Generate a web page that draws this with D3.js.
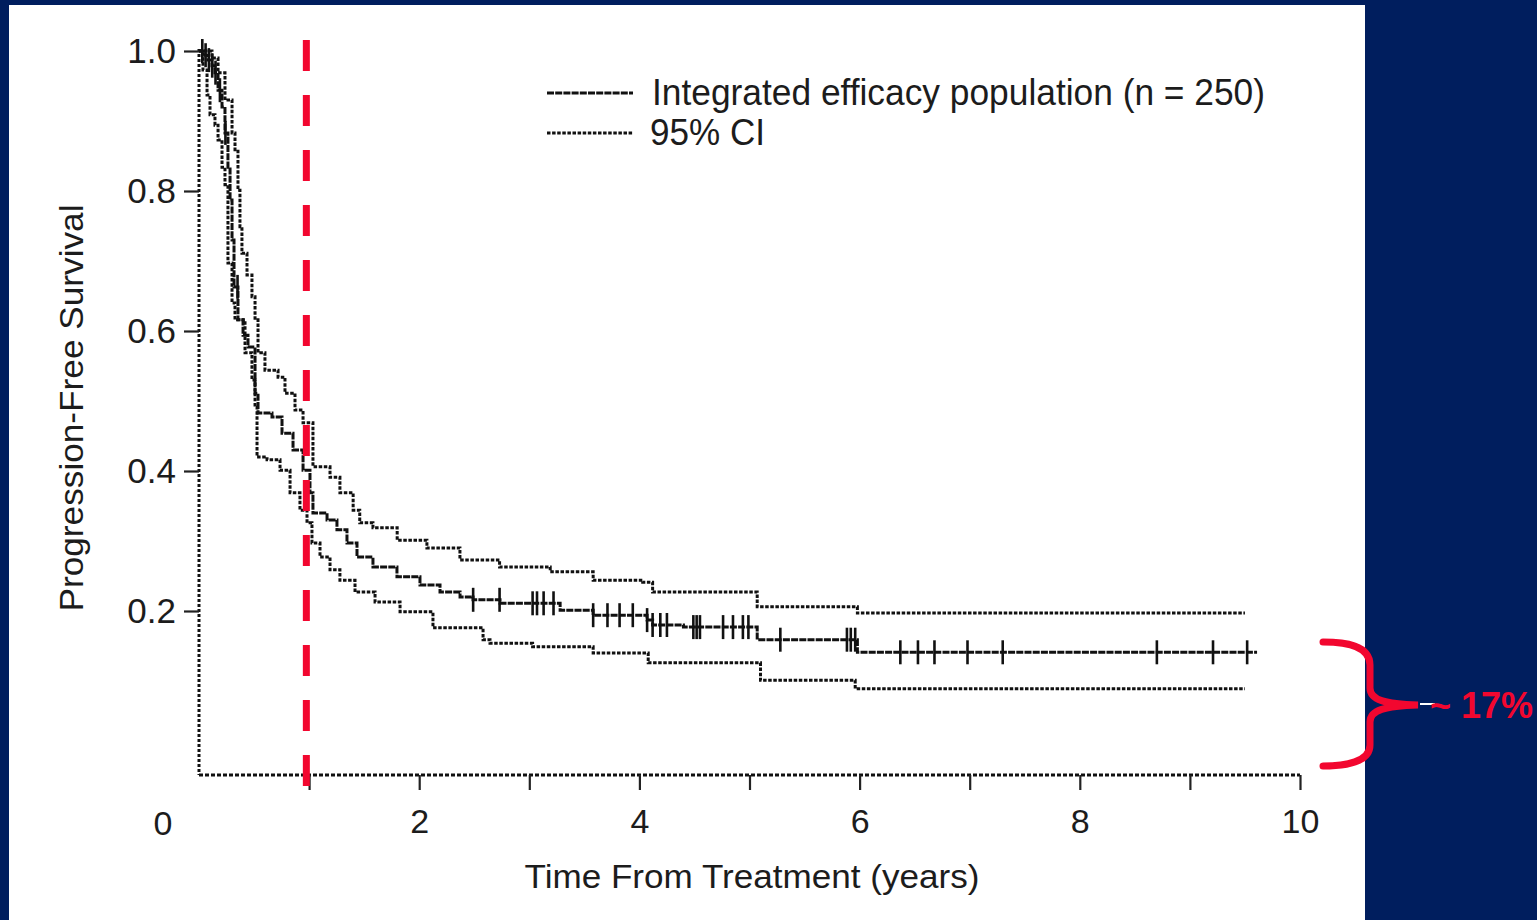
<!DOCTYPE html>
<html>
<head>
<meta charset="utf-8">
<script src="https://cdn.jsdelivr.net/npm/d3@7"></script>
<style>
  html, body { margin: 0; padding: 0; background: #001e5e; }
  svg { display: block; }
  text { font-family: "Liberation Sans", Arial, sans-serif; }
</style>
</head>
<body>
<svg id="chart" width="1537" height="920"></svg>
<script>
// ---------------- DATA ----------------
// Kaplan-Meier estimate: [time (years), progression-free survival]
const pfsMain = [
  [0,1.0],[0.055,0.994],[0.082,0.987],[0.118,0.979],[0.145,0.969],[0.173,0.944],
  [0.209,0.92],[0.236,0.883],[0.263,0.834],[0.282,0.787],[0.30,0.73],[0.318,0.663],
  [0.354,0.616],[0.40,0.594],[0.445,0.577],[0.509,0.559],[0.509,0.511],[0.536,0.483],
  [0.663,0.477],[0.754,0.454],[0.854,0.43],[0.945,0.401],[1.008,0.369],[1.035,0.34],
  [1.163,0.33],[1.253,0.316],[1.344,0.297],[1.435,0.277],[1.58,0.263],[1.798,0.249],
  [2.007,0.237],[2.189,0.227],[2.371,0.22],[2.489,0.216],[2.734,0.211],[3.28,0.201],
  [3.58,0.194],[4.07,0.187],[4.12,0.18],[4.40,0.177],[5.07,0.159],[5.98,0.141],[9.61,0.141]
];
const ciUpper = [
  [0,1.0],[0.118,0.99],[0.173,0.969],[0.236,0.93],[0.30,0.883],[0.327,0.859],
  [0.354,0.801],[0.372,0.749],[0.39,0.711],[0.436,0.68],[0.481,0.649],[0.509,0.616],
  [0.536,0.569],[0.599,0.544],[0.718,0.534],[0.781,0.511],[0.872,0.487],[0.945,0.469],
  [1.035,0.406],[1.19,0.391],[1.28,0.369],[1.40,0.344],[1.46,0.326],[1.58,0.319],
  [1.80,0.301],[2.07,0.29],[2.37,0.273],[2.73,0.263],[3.19,0.256],[3.58,0.244],
  [4.03,0.241],[4.12,0.227],[5.07,0.206],[5.98,0.197],[9.50,0.197]
];
const ciLower = [
  [0,1.0],[0.036,0.973],[0.073,0.937],[0.10,0.909],[0.145,0.894],[0.173,0.873],
  [0.209,0.834],[0.236,0.809],[0.263,0.787],[0.263,0.697],[0.30,0.64],[0.327,0.616],
  [0.418,0.569],[0.481,0.53],[0.509,0.491],[0.527,0.449],[0.527,0.42],[0.618,0.416],
  [0.736,0.401],[0.827,0.369],[0.917,0.344],[0.981,0.326],[1.026,0.297],[1.099,0.277],
  [1.19,0.259],[1.28,0.244],[1.417,0.227],[1.599,0.213],[1.826,0.199],[2.125,0.176],
  [2.58,0.159],[2.643,0.154],[3.03,0.149],[3.58,0.14],[4.08,0.126],[5.10,0.101],
  [5.96,0.089],[9.50,0.089]
];
// censoring times (years)
const censorTimes = [
  0.03,0.06,0.09,0.12,0.15,0.19,0.24,0.35,
  2.49,2.73,3.03,3.07,3.13,3.22,3.58,3.71,3.82,3.94,4.07,4.12,4.19,4.25,
  4.49,4.52,4.55,4.76,4.85,4.94,4.99,5.28,5.885,5.92,5.96,6.37,6.53,6.68,
  6.98,7.30,8.70,9.21,9.52
];
const xTickValues = [1,2,3,4,5,6,7,8,9,10];
const xTickLabels = [2,4,6,8,10];
const yTickValues = [0.2,0.4,0.6,0.8,1.0];
const legendLabels = ["Integrated efficacy population (n = 250)", "95% CI"];
const referenceYear = 0.975;
const annotationText = "~ 17%";
const xTitle = "Time From Treatment (years)";
const yTitle = "Progression-Free Survival";

// ---------------- LAYOUT ----------------
const svg = d3.select("#chart");
svg.append("rect").attr("x",0).attr("y",0).attr("width",1537).attr("height",920).attr("fill","#001e5e");
svg.append("rect").attr("x",9).attr("y",5).attr("width",1356).attr("height",915).attr("fill","#ffffff");

const x = d3.scaleLinear().domain([0,10]).range([199,1300]);
const y = d3.scaleLinear().domain([0,1]).range([751,51]);
const axisY = 775;
const ink = "#111";
const textInk = "#1c1c1c";

// axes (dotted)
svg.append("line").attr("x1",x(0)).attr("x2",x(0)).attr("y1",y(1)-2).attr("y2",axisY)
  .attr("stroke",ink).attr("stroke-width",3).attr("stroke-dasharray","3,2");
svg.append("line").attr("x1",x(0)).attr("x2",x(10)).attr("y1",axisY).attr("y2",axisY)
  .attr("stroke",ink).attr("stroke-width",3).attr("stroke-dasharray","4,2");

// y ticks
const yAxisG = svg.append("g").attr("transform",`translate(${x(0)},0)`)
  .call(d3.axisLeft(y).tickValues(yTickValues).tickSize(15).tickFormat(d3.format(".1f")));
yAxisG.select(".domain").remove();
yAxisG.selectAll(".tick line").attr("stroke","#222").attr("stroke-width",2.2);
yAxisG.selectAll(".tick text").attr("font-size",35).attr("fill",textInk)
  .attr("font-family","Liberation Sans, Arial, sans-serif").attr("x",-23);

// x ticks
const xAxisG = svg.append("g").attr("transform",`translate(0,${axisY})`)
  .call(d3.axisBottom(x).tickValues(xTickValues).tickSize(15)
    .tickFormat(d => xTickLabels.includes(d) ? d : ""));
xAxisG.select(".domain").remove();
xAxisG.selectAll(".tick line").attr("stroke","#222").attr("stroke-width",2.2);
xAxisG.selectAll(".tick text").attr("font-size",34).attr("fill",textInk)
  .attr("font-family","Liberation Sans, Arial, sans-serif").attr("y",34);
svg.append("text").attr("x",x(0)-36).attr("y",axisY+60).attr("text-anchor","middle")
  .attr("font-size",34).attr("fill",textInk).text("0");

// axis titles
svg.append("text").attr("x",752).attr("y",888).attr("text-anchor","middle")
  .attr("font-size",34).attr("fill",textInk)
  .attr("textLength",455).attr("lengthAdjust","spacingAndGlyphs").text(xTitle);
svg.append("text").attr("transform","translate(83,408) rotate(-90)").attr("text-anchor","middle")
  .attr("font-size",34).attr("fill",textInk)
  .attr("textLength",407).attr("lengthAdjust","spacingAndGlyphs").text(yTitle);

// curves
const line = d3.line().x(d => x(d[0])).y(d => y(d[1])).curve(d3.curveStepAfter);
svg.append("path").datum(ciUpper).attr("d",line).attr("fill","none")
  .attr("stroke",ink).attr("stroke-width",3).attr("stroke-dasharray","3.5,1.6");
svg.append("path").datum(ciLower).attr("d",line).attr("fill","none")
  .attr("stroke",ink).attr("stroke-width",3).attr("stroke-dasharray","3.5,1.6");
svg.append("path").datum(pfsMain).attr("d",line).attr("fill","none")
  .attr("stroke",ink).attr("stroke-width",3).attr("stroke-dasharray","7,1.2");

function stepValue(data, t) {
  let v = data[0][1];
  for (const d of data) { if (d[0] <= t) v = d[1]; else break; }
  return v;
}
svg.append("g").selectAll("line").data(censorTimes).join("line")
  .attr("x1",d => x(d)).attr("x2",d => x(d))
  .attr("y1",d => y(stepValue(pfsMain,d))-12).attr("y2",d => y(stepValue(pfsMain,d))+12)
  .attr("stroke",ink).attr("stroke-width",2.6);

// legend
const lg = svg.append("g");
lg.append("line").attr("x1",547).attr("x2",633).attr("y1",93).attr("y2",93)
  .attr("stroke",ink).attr("stroke-width",3).attr("stroke-dasharray","7,1.2");
lg.append("line").attr("x1",547).attr("x2",633).attr("y1",133).attr("y2",133)
  .attr("stroke",ink).attr("stroke-width",3).attr("stroke-dasharray","3.5,1.6");
lg.append("text").attr("x",652).attr("y",105).attr("font-size",36).attr("fill",textInk)
  .attr("textLength",613).attr("lengthAdjust","spacingAndGlyphs").text(legendLabels[0]);
lg.append("text").attr("x",650).attr("y",145).attr("font-size",36).attr("fill",textInk)
  .attr("textLength",115).attr("lengthAdjust","spacingAndGlyphs").text(legendLabels[1]);

// red reference line at ~1 year
svg.append("line").attr("x1",x(referenceYear)).attr("x2",x(referenceYear)).attr("y1",40).attr("y2",786)
  .attr("stroke","#f2072f").attr("stroke-width",7).attr("stroke-dasharray","31,24");

// bracket annotation
const br = d3.path();
br.moveTo(1323,642);
br.bezierCurveTo(1345,642,1370,645,1370,665);
br.lineTo(1370,688);
br.bezierCurveTo(1370,700,1385,704,1418,705);
br.bezierCurveTo(1385,706,1370,710,1370,722);
br.lineTo(1370,745);
br.bezierCurveTo(1370,762,1345,766,1323,766);
svg.append("path").attr("d",br.toString()).attr("fill","none")
  .attr("stroke","#f2072f").attr("stroke-width",7).attr("stroke-linecap","round");
svg.append("line").attr("x1",1420).attr("x2",1435).attr("y1",704).attr("y2",704)
  .attr("stroke","#ffffff").attr("stroke-width",2);
svg.append("text").attr("x",1430).attr("y",718).attr("font-size",36).attr("font-weight","bold")
  .attr("fill","#f2072f").text(annotationText);
</script>
</body>
</html>
